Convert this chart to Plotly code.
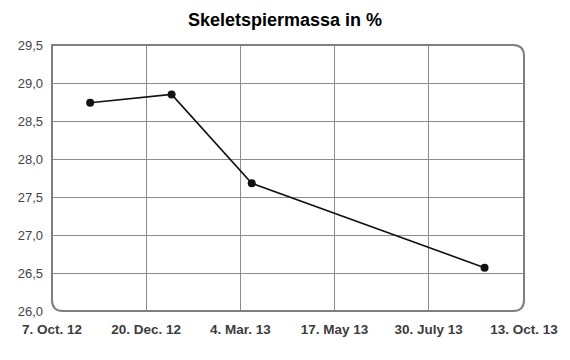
import plotly.graph_objects as go

# Data
dates = ["2012-11-06", "2013-01-09", "2013-03-13", "2013-09-12"]
values = [28.74, 28.85, 27.68, 26.57]

tick_dates = ["2012-10-07", "2012-12-20", "2013-03-04", "2013-05-17", "2013-07-30", "2013-10-13"]
tick_labels = ["7. Oct. 12", "20. Dec. 12", "4. Mar. 13", "17. May 13", "30. July 13", "13. Oct. 13"]

y_ticks = [26.0, 26.5, 27.0, 27.5, 28.0, 28.5, 29.0, 29.5]

W, H = 570, 360
ml, mr, mt, mb = 52, 46, 45, 49
pw, ph = W - ml - mr, H - mt - mb

fig = go.Figure()
fig.add_trace(go.Scatter(
    x=dates, y=values, mode="lines+markers",
    line=dict(color="#111111", width=1.6),
    marker=dict(color="#111111", size=8),
    hoverinfo="x+y",
))

# rounded border (top-left square, other corners rounded)
r = 11
rx, ry = r / pw, r / ph
path = (
    f"M 0,1 L {1 - rx},1 Q 1,1 1,{1 - ry} "
    f"L 1,{ry} Q 1,0 {1 - rx},0 "
    f"L {rx},0 Q 0,0 0,{ry} Z"
)
fig.add_shape(type="path", path=path, xref="paper", yref="paper",
              line=dict(color="#7f7f7f", width=2), layer="above")

fig.update_layout(
    width=W, height=H,
    margin=dict(l=ml, r=mr, t=mt, b=mb),
    paper_bgcolor="white", plot_bgcolor="white",
    separators=",.",
    showlegend=False,
    title=dict(text="<b>Skeletspiermassa in %</b>", x=0.5, xanchor="center",
               y=1 - 20 / H, yanchor="middle",
               font=dict(family="Liberation Sans, Arial", size=18, color="#000000")),
    font=dict(family="Liberation Sans, Arial", size=13, color="#444444"),
)
fig.update_xaxes(
    type="date",
    range=[tick_dates[0], tick_dates[-1]],
    tickmode="array", tickvals=tick_dates,
    ticktext=[f"<b>{t}</b>" for t in tick_labels],
    showgrid=True, gridcolor="#8c8c8c", gridwidth=1,
    zeroline=False, showline=False, ticks="", ticklabelstandoff=8,
    tickfont=dict(size=13.5, color="#3c3c3c"),
)
fig.update_yaxes(
    range=[26.0, 29.5],
    tickmode="array", tickvals=y_ticks, tickformat=".1f",
    showgrid=True, gridcolor="#8c8c8c", gridwidth=1,
    zeroline=False, showline=False, ticks="", ticklabelstandoff=8,
    tickfont=dict(size=13, color="#444444"),
)

fig.write_html("out.html", config={"displayModeBar": False},
               post_script="document.body.style.margin='0';")
